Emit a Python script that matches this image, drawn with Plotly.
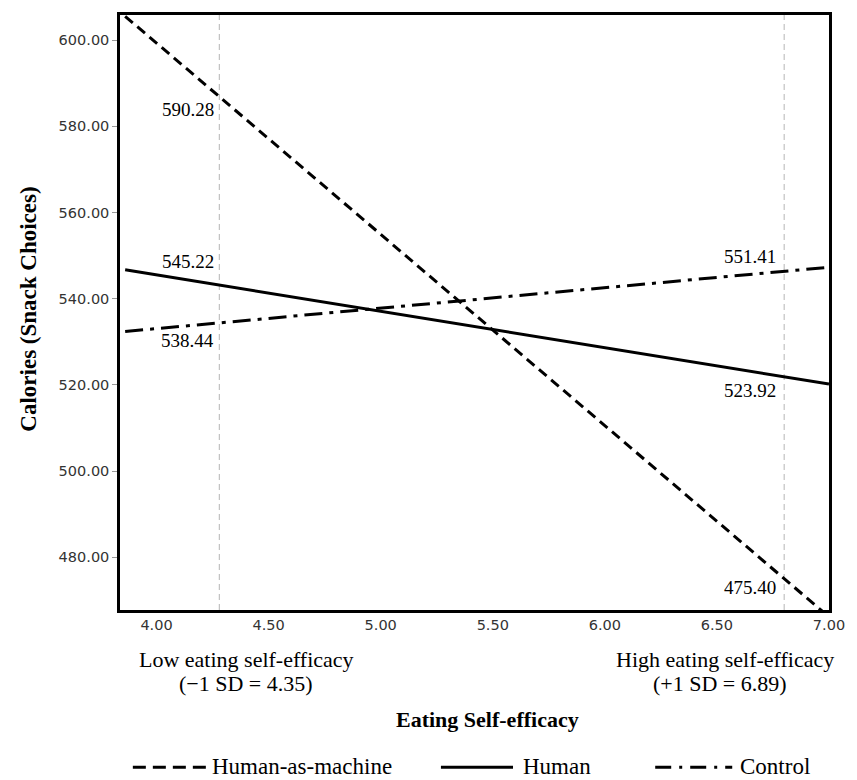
import plotly.graph_objects as go

# ---- data ----
x_ends = [3.86, 7.0]
human_as_machine = [605.5, 466.2]
human = [546.7, 520.2]
control = [532.4, 547.3]

ref_x = [4.28, 6.80]          # positions of the -1 SD / +1 SD guide lines
x_ticks = [4.0, 4.5, 5.0, 5.5, 6.0, 6.5, 7.0]

# value labels: (text, x, y, side)
value_labels = [
    ("590.28", 4.28, 583.9, "low"),
    ("545.22", 4.28, 548.6, "low"),
    ("538.44", 4.28, 530.3, "low"),
    ("551.41", 6.80, 549.7, "high"),
    ("523.92", 6.80, 518.6, "high"),
    ("475.40", 6.80, 473.1, "high"),
]

series_names = ["Human-as-machine", "Human", "Control"]

SERIF = "Liberation Serif"
SANS = "DejaVu Sans"
DASH = "10px,6px"
DASHDOT = "18px,7px,4px,7px"

fig = go.Figure()

for xv in ref_x:
    fig.add_shape(type="line", xref="x", yref="paper", x0=xv, x1=xv, y0=0, y1=1,
                  line=dict(color="#b5b5b5", width=1, dash="6px,4px"), layer="below")

fig.add_trace(go.Scatter(x=x_ends, y=human_as_machine, mode="lines", name=series_names[0],
                         line=dict(color="black", width=3, dash=DASH), showlegend=False))
fig.add_trace(go.Scatter(x=x_ends, y=human, mode="lines", name=series_names[1],
                         line=dict(color="black", width=3), showlegend=False))
fig.add_trace(go.Scatter(x=x_ends, y=control, mode="lines", name=series_names[2],
                         line=dict(color="black", width=3, dash=DASHDOT), showlegend=False))

for txt, xv, yv, side in value_labels:
    fig.add_annotation(x=xv, y=yv, xref="x", yref="y", text=txt, showarrow=False,
                       xanchor="right", yanchor="middle",
                       xshift=-3 if side == "low" else -6,
                       font=dict(family=SERIF, size=19, color="black"))

# plot area: x 120..838 px, y 12..610 px
L, R, T, B = 120, 838, 12, 610
W, H = R - L, B - T

def px(x):
    return (x - L) / W

def py(y):
    return (B - y) / H

# SD labels under the axis
for txt, cx, cy in [("Low eating self-efficacy", 248, 660), ("(\u22121 SD = 4.35)", 248, 684),
                    ("High eating self-efficacy", 733, 660), ("(+1 SD = 6.89)", 728, 684)]:
    fig.add_annotation(x=px(cx), y=py(cy), xref="paper", yref="paper", text=txt,
                       showarrow=False, xanchor="center", yanchor="middle",
                       font=dict(family=SERIF, size=22, color="black"))

# axis titles
fig.add_annotation(x=px(492), y=py(720), xref="paper", yref="paper",
                   text="<b>Eating Self-efficacy</b>", showarrow=False,
                   xanchor="center", yanchor="middle",
                   font=dict(family=SERIF, size=22, color="black"))
fig.add_annotation(x=px(27), y=py(308), xref="paper", yref="paper",
                   text="<b>Calories (Snack Choices)</b>", showarrow=False, textangle=-90,
                   xanchor="center", yanchor="middle",
                   font=dict(family=SERIF, size=23, color="black"))

# manual legend
legend_y = 768
legend_items = [
    (series_names[0], 133, 207, 211, "13px,7px"),
    (series_names[1], 445, 518, 526, "solid"),
    (series_names[2], 662, 740, 746, "16px,8px,3px,8px"),
]
for name, x0, x1, tx, dash in legend_items:
    fig.add_shape(type="line", xref="paper", yref="paper", x0=px(x0), x1=px(x1),
                  y0=py(legend_y), y1=py(legend_y),
                  line=dict(color="black", width=3, dash=dash))
    fig.add_annotation(x=px(tx), y=py(legend_y - 1), xref="paper", yref="paper", text=name,
                       showarrow=False, xanchor="left", yanchor="middle",
                       font=dict(family=SERIF, size=23, color="black"))

fig.update_layout(
    width=857, height=780,
    margin=dict(l=L, r=857 - R, t=T, b=780 - B),
    paper_bgcolor="white", plot_bgcolor="white",
    showlegend=False,
)
fig.update_xaxes(range=[3.837, 7.0], tickvals=x_ticks, tickformat=".2f",
                 showgrid=False, zeroline=False, ticks="",
                 showline=True, linecolor="black", linewidth=2.5, mirror=True,
                 tickfont=dict(family=SANS, size=14.5, color="#333333"))
fig.update_yaxes(range=[467.8, 605.8], tick0=480, dtick=20, tickformat=".2f",
                 showgrid=False, zeroline=False, ticks="outside", ticklen=5,
                 tickcolor="#999999", tickwidth=1,
                 showline=True, linecolor="black", linewidth=2.5, mirror=True,
                 tickfont=dict(family=SANS, size=14.5, color="#333333"))

fig.write_html(
    "out.html",
    config={"displayModeBar": False},
    post_script="document.body.style.margin='0';document.body.style.overflow='hidden';",
)
